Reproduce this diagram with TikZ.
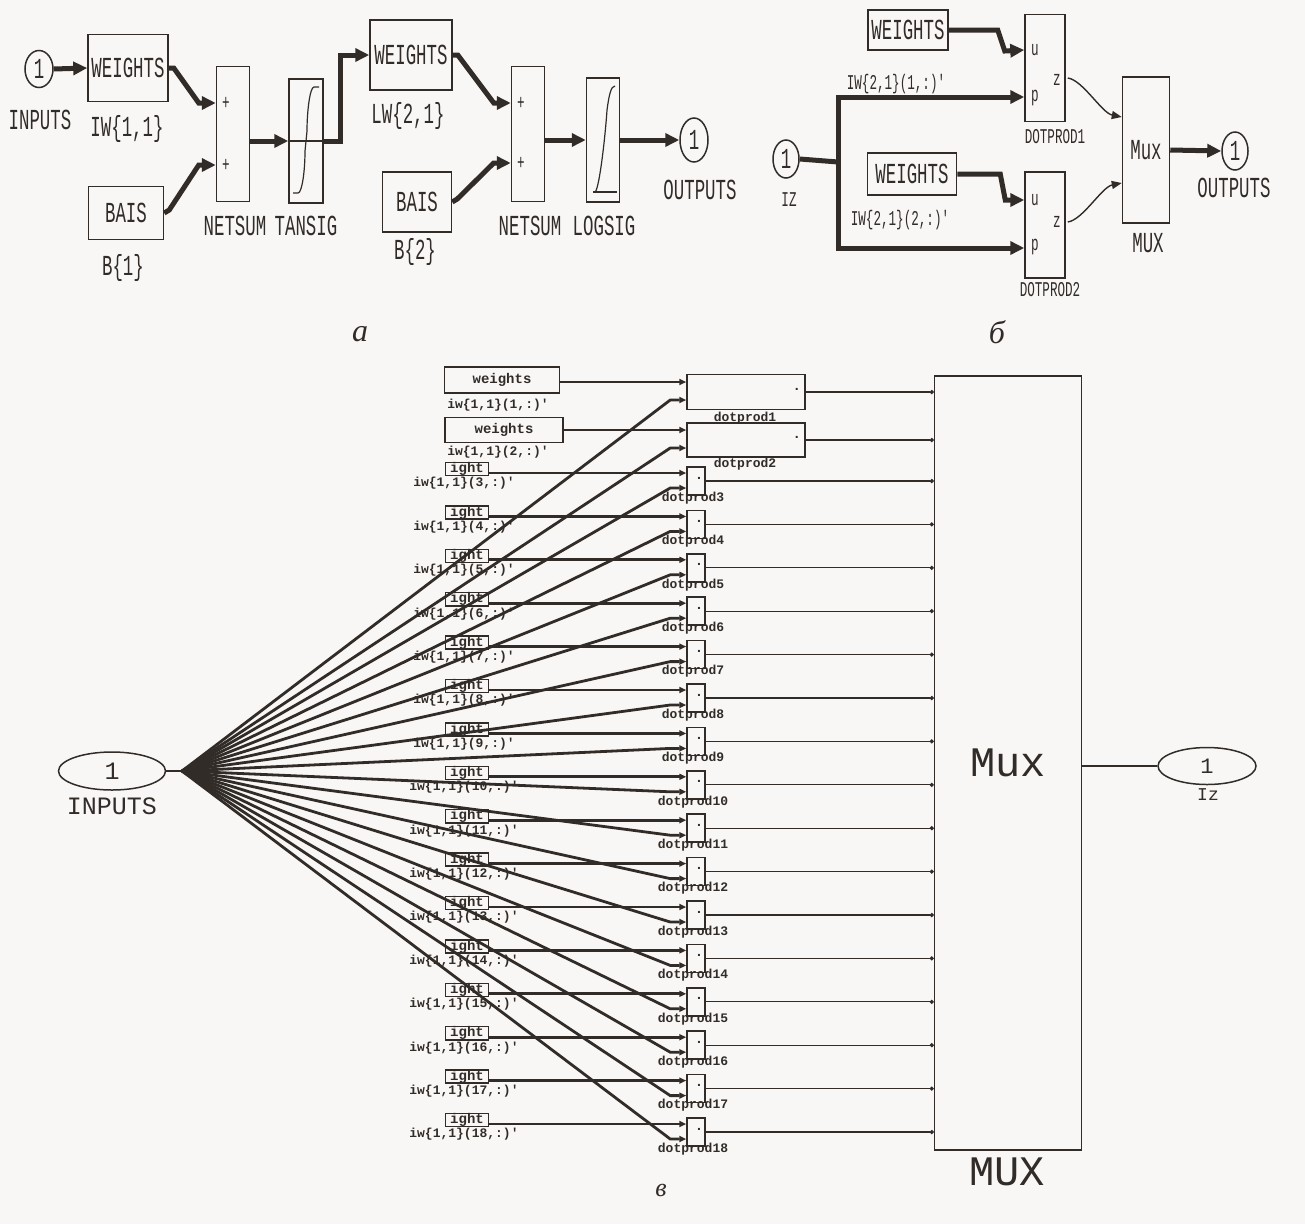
\documentclass[tikz,border=0pt]{standalone}
\usepackage{fontspec}
\usetikzlibrary{arrows.meta,calc,shapes.geometric}
\newfontfamily\courN[FakeStretch=0.6]{Liberation Mono}
\newfontfamily\courR{Liberation Mono}
\newfontfamily\capfont{Liberation Serif}
\definecolor{ink}{RGB}{50,44,40}
\definecolor{paper}{RGB}{248,247,245}
\begin{document}
\begin{tikzpicture}[x=1pt,y=-1pt,
 every node/.style={text=ink},
 box/.style={draw=ink, line width=1.5, inner sep=0pt},
 oval/.style={draw=ink, line width=1.5, ellipse, inner sep=0pt},
 bigf/.style={font=\courN\fontsize{29}{30}\selectfont},
 smf/.style={font=\courN\fontsize{21}{22}\selectfont},
 midf/.style={font=\courR\fontsize{25}{26}\selectfont},
 muxf/.style={font=\courR\fontsize{42}{42}\selectfont},
 tarrow/.style={draw=ink, line width=5, -{Triangle[length=14pt,width=13pt]}},
 tline/.style={draw=ink, line width=5},
 narrow/.style={draw=ink, line width=1.4, -{Triangle[length=10pt,width=8pt]}},
 fanl/.style={draw=ink, line width=2.8, -{Triangle[length=7pt,width=6pt]}},
 muxl/.style={draw=ink, line width=1.3, -{Circle[length=4pt]}},
 curve/.style={draw=ink, line width=1.2},
 tinyb/.style={font=\courR\bfseries\fontsize{14}{14}\selectfont},
 tinyl/.style={font=\courR\bfseries\fontsize{13}{13}\selectfont},
 capf/.style={font=\capfont\itshape\fontsize{32}{32}\selectfont}
 ]
\fill[paper] (0,0) rectangle (1305,1224);
\useasboundingbox (0,0) rectangle (1305,1224);

% ---------------- (a) ----------------
\node[oval,bigf,minimum width=28,minimum height=37] (in1) at (39,69) {1};
\node[bigf] at (40,120) {INPUTS};
\node[box,bigf,minimum width=80,minimum height=67] (w1) at (128,68) {WEIGHTS};
\node[bigf] at (127,129) {IW\{1,1\}};
\node[box,bigf,minimum width=75,minimum height=53] (b1) at (126,213) {BAIS};
\node[bigf] at (123,268) {B\{1\}};
\node[box,minimum width=33,minimum height=135] (ns1) at (233,134) {};
\node[smf] at (226,103) {+};
\node[smf] at (226,165) {+};
\node[bigf] at (235,226) {NETSUM};
\node[box,minimum width=34,minimum height=124] (ts1) at (306,141) {};
\node[bigf] at (306,226) {TANSIG};
\draw[tarrow] (in1.east) -- (w1.west);
\draw[tarrow] (w1.east) -- ++(5,0) -- ($(ns1.west)+(-17,-31)$) -- ($(ns1.west)+(0,-31)$);
\draw[tarrow] (b1.east) -- ++(5,-3) -- ($(ns1.west)+(-17,31)$) -- ($(ns1.west)+(0,31)$);
\draw[tarrow] ($(ns1.east)+(0,7)$) -- (ts1.west);
\draw[curve] (ts1.west) -- (ts1.east);
\draw[curve] ($(ts1.center)+(-13,52)$) -- ++(5,0) .. controls +(4,0) and +(0,20) .. ($(ts1.center)+(-1,10)$) -- ($(ts1.center)+(1,-10)$) .. controls +(0,-20) and +(-4,0) .. ($(ts1.center)+(8,-54)$) -- ++(5,0);

\node[box,bigf,minimum width=82,minimum height=70] (w2) at (411,55) {WEIGHTS};
\node[bigf] at (408,116) {LW\{2,1\}};
\node[box,bigf,minimum width=69,minimum height=60] (b2) at (417,202) {BAIS};
\node[bigf] at (415,252) {B\{2\}};
\node[box,minimum width=33,minimum height=135] (ns2) at (528,134) {};
\node[smf] at (521,103) {+};
\node[smf] at (521,163) {+};
\node[bigf] at (530,226) {NETSUM};
\node[box,minimum width=33,minimum height=124] (ls) at (603,140) {};
\node[bigf] at (604,226) {LOGSIG};
\node[oval,bigf,minimum width=28,minimum height=44] (out1) at (694,140) {1};
\node[bigf] at (700,190) {OUTPUTS};
\draw[tarrow] (ts1.east) -- ++(17,0) |- (w2.west);
\draw[tarrow] (w2.east) -- ++(5,0) -- ($(ns2.west)+(-17,-31)$) -- ($(ns2.west)+(0,-31)$);
\draw[tarrow] (b2.east) -- ++(5,-3) -- ($(ns2.west)+(-17,29)$) -- ($(ns2.west)+(0,29)$);
\draw[tarrow] ($(ns2.east)+(0,6)$) -- (ls.west);
\draw[tarrow] (ls.east) -- (out1.west);
\draw[curve] ($(ls.center)+(-10,52)$) -- ($(ls.center)+(14,52)$);
\draw[curve] ($(ls.center)+(-8,52)$) .. controls +(4,-2) and +(-2,30) .. ($(ls.center)+(4,-30)$) .. controls +(2,-15) and +(-4,0) .. ($(ls.center)+(12,-54)$);
\node[capf] at (360,334) {а};

% ---------------- (b) ----------------
\node[box,bigf,minimum width=80,minimum height=40] (w3) at (908,30) {WEIGHTS};
\node[smf] at (896,84) {IW\{2,1\}(1,:)'};
\node[box,minimum width=40,minimum height=107] (dpa) at (1045,68) {};
\node[smf] at (1035,50) {u};
\node[smf] at (1035,98) {p};
\node[smf] at (1057,80) {z};
\node[smf] at (1055,137) {DOTPROD1};
\node[box,bigf,minimum width=89,minimum height=42] (w4) at (912,174) {WEIGHTS};
\node[smf] at (900,220) {IW\{2,1\}(2,:)'};
\node[box,minimum width=40,minimum height=106] (dpb) at (1045,225) {};
\node[smf] at (1035,200) {u};
\node[smf] at (1035,247) {p};
\node[smf] at (1057,222) {z};
\node[smf] at (1050,290) {DOTPROD2};
\node[oval,bigf,minimum width=26,minimum height=38] (iz) at (786,159) {1};
\node[smf] at (789,200) {IZ};
\node[box,bigf,minimum width=47,minimum height=146] (muxa) at (1146,150) {Mux};
\node[bigf] at (1148,243) {MUX};
\node[oval,bigf,minimum width=26,minimum height=38] (out2) at (1235,151) {1};
\node[bigf] at (1234,188) {OUTPUTS};
\coordinate (br) at (838,162);
\draw[tline] (iz.east) -- (br);
\draw[tarrow] (br) |- ($(dpa.west)+(0,29)$);
\draw[tarrow] (br) |- ($(dpb.west)+(0,23)$);
\draw[tarrow] (w3.east) -- ++(49,0) -- ++(7,21) -- ($(dpa.west)+(0,-18)$);
\draw[tarrow] (w4.east) -- ++(43,0) -- ++(5,26) -- ($(dpb.west)+(0,-25)$);
\draw[narrow] ($(dpa.east)+(2,10)$) .. controls +(15,2) and +(-20,-4) .. ($(muxa.west)+(0,-33)$);
\draw[narrow] ($(dpb.east)+(2,-3)$) .. controls +(15,-2) and +(-20,4) .. ($(muxa.west)+(0,33)$);
\draw[tarrow] (muxa.east) -- (out2.west);
\node[capf] at (997,332) {б};

% ---------------- (c) ----------------
\node[box,muxf,minimum width=147,minimum height=774] (mux) at (1008,763) {Mux};
\node[muxf] at (1007,1172) {MUX};
\node[oval,midf,minimum width=107,minimum height=38] (in2) at (112,771) {1};
\node[midf] at (112,806) {INPUTS};
\coordinate (fan) at (182,771);
\draw[draw=ink,line width=2] (in2.east) -- (fan);
\node[oval,font=\courR\fontsize{22}{22}\selectfont,minimum width=98,minimum height=37] (iz2) at (1207,766) {1};
\node[font=\courR\fontsize{18}{18}\selectfont] at (1208,795) {Iz};
\draw[draw=ink,line width=1.5] (mux.east |- iz2) -- (iz2.west);

% big rows 1-2
\node[box,tinyb,minimum width=115,minimum height=26] (wb1) at (502,380) {weights};
\node[tinyl] at (498,405) {iw\{1,1\}(1,:)'};
\node[box,minimum width=118,minimum height=35] (dp1) at (746,392) {};
\node[tinyb] at ($(dp1.east)+(-9,-3)$) {.};
\node[tinyl] at (745,418) {dotprod1};
\coordinate (u1) at ($(dp1.west)+(0,-10)$);
\coordinate (l1) at ($(dp1.west)+(0,8)$);
\node[box,tinyb,minimum width=118,minimum height=25] (wb2) at (504,430) {weights};
\node[tinyl] at (498,452) {iw\{1,1\}(2,:)'};
\node[box,minimum width=118,minimum height=34] (dp2) at (746,440) {};
\node[tinyb] at ($(dp2.east)+(-9,-3)$) {.};
\node[tinyl] at (745,464) {dotprod2};
\coordinate (u2) at ($(dp2.west)+(0,-10)$);
\coordinate (l2) at ($(dp2.west)+(0,8)$);
\foreach \k in {1,2}{
  \draw[fanl] (wb\k.east |- u\k) -- (u\k);
  \draw[fanl] (fan) -- ($(l\k)+(-16,0)$) -- (l\k);
  \draw[muxl] (dp\k.east) -- (dp\k.east -| mux.west);
}
% small rows 3-18
\foreach \k in {3,...,18}{
  \pgfmathsetmacro\yc{481+(\k-3)*43.4}
  \node[box,minimum width=18,minimum height=28] (dp\k) at (696,\yc) {};
  \node[tinyb] at ($(dp\k.center)+(3,-3)$) {.};
  \node[box,tinyb,minimum width=43,minimum height=13] (ws\k) at (467,\yc-12) {ight};
  \node[tinyl] at (464,\yc+2.5) {iw\{1,1\}(\k,:)'};
  \node[tinyl] at (693,\yc+17) {dotprod\k};
  \coordinate (u\k) at ($(dp\k.west)+(0,-8)$);
  \coordinate (l\k) at ($(dp\k.west)+(0,7)$);
  \draw[fanl] (ws\k.east |- u\k) -- (u\k);
  \draw[fanl] (fan) -- ($(l\k)+(-16,0)$) -- (l\k);
  \draw[muxl] (dp\k.east) -- (dp\k.east -| mux.west);
}
\node[capf,font=\capfont\itshape\fontsize{26}{26}\selectfont] at (661,1190) {в};
\end{tikzpicture}
\end{document}
